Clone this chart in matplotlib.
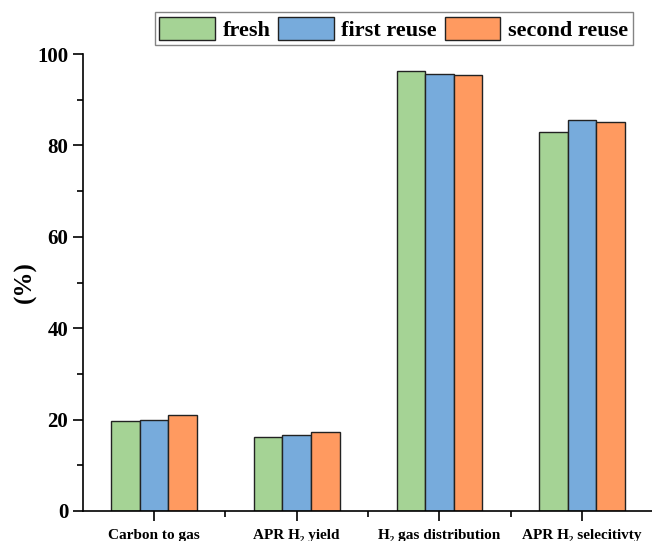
import numpy as np
import matplotlib
matplotlib.use("Agg")
import matplotlib.pyplot as plt
from matplotlib.ticker import MultipleLocator, FixedLocator

plt.rcParams['font.family'] = ['Liberation Serif', 'DejaVu Serif']
plt.rcParams['font.weight'] = 'bold'

#=========== Data ================
categories = ["Carbon to gas", "APR H\u2082 yield", "H\u2082 gas distribution", "APR H\u2082 selecitivty"]
series_names = ["fresh", "first reuse", "second reuse"]
fresh = [19.7, 16.2, 96.2, 83.0]
first_reuse = [19.9, 16.6, 95.6, 85.6]
second_reuse = [21.0, 17.3, 95.4, 85.1]
colors = ["#a5d395", "#77abdc", "#ff9a60"]

#=========== Plot ================
fig = plt.figure(figsize=(6.52, 5.41), dpi=100)
ax = fig.add_axes([0.127, 0.0555, 0.875, 0.8445])

x = np.arange(1, len(categories) + 1)
width = 0.2
for i, (vals, name) in enumerate(zip([fresh, first_reuse, second_reuse], series_names)):
    ax.bar(x + (i - 1) * width, vals, width, color=colors[i], edgecolor="#222222",
           linewidth=1.0, label=name)

ax.set_xlim(0.5, 4.5)
ax.set_ylim(0, 100)
ax.set_xticks(x)
ax.set_xticklabels(categories, fontsize=11, fontweight="bold")
ax.xaxis.set_minor_locator(FixedLocator([1.5, 2.5, 3.5]))
ax.yaxis.set_major_locator(MultipleLocator(20))
ax.yaxis.set_minor_locator(MultipleLocator(10))
ax.tick_params(axis="both", which="major", direction="out", length=7, width=1.2)
ax.tick_params(axis="both", which="minor", direction="out", length=4, width=1.2)
ax.tick_params(axis="y", labelsize=15)
ax.tick_params(axis="x", pad=6)
for lab in ax.get_yticklabels():
    lab.set_fontweight("bold")

ax.spines["top"].set_visible(False)
ax.spines["right"].set_visible(False)
ax.spines["left"].set_linewidth(1.2)
ax.spines["bottom"].set_linewidth(1.2)

ax.set_ylabel("(%)", fontsize=18, fontweight="bold", labelpad=0)

leg = ax.legend(loc="upper center", bbox_to_anchor=(0.545, 1.092), ncol=3,
                prop={"weight": "bold", "size": 16}, frameon=True,
                fancybox=False, edgecolor="#666666", handlelength=2.5, handleheight=1.25,
                handletextpad=0.35, columnspacing=0.35, borderpad=0.2, borderaxespad=0)
leg.get_frame().set_linewidth(1.0)

fig.savefig("out.png", dpi=100)
